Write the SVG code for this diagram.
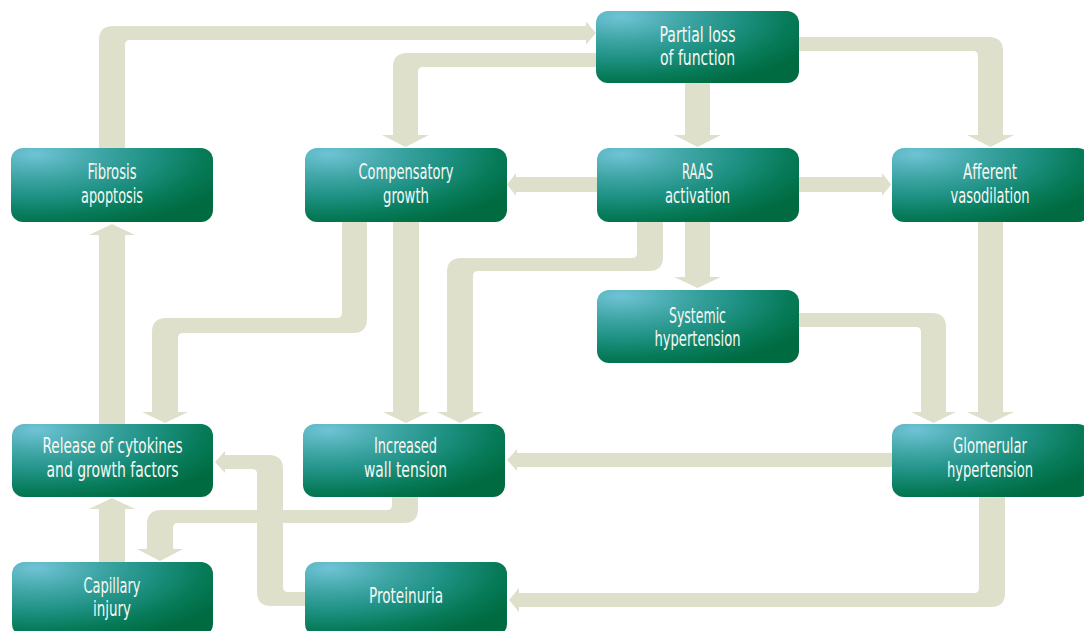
<svg xmlns="http://www.w3.org/2000/svg" width="1084" height="631" viewBox="0 0 1084 631">
  <defs>
    <radialGradient id="boxGrad" cx="0.12" cy="0.08" r="1.05" fx="0.12" fy="0.08" gradientUnits="objectBoundingBox">
      <stop offset="0" stop-color="#6fc3d6"/>
      <stop offset="0.3" stop-color="#3fa6a5"/>
      <stop offset="0.55" stop-color="#1f9184"/>
      <stop offset="0.8" stop-color="#067a57"/>
      <stop offset="1" stop-color="#006a40"/>
    </radialGradient>
  </defs>
  <style>
    .conn { fill: #dfe0cc; stroke: none; }
    .box { fill: url(#boxGrad); }
    .lbl { font-family: "Liberation Sans Narrow", "DejaVu Sans Condensed", "Liberation Sans", sans-serif; font-size: 21px; fill: #f6f7f3; text-anchor: middle; }
  </style>
  <rect width="1084" height="631" fill="#ffffff"/>

  <g id="connectors">
    <!-- Fibrosis -> Partial loss -->
    <path class="conn" d="M 99 148 L 99 40 Q 99 26 113 26 L 586 26 L 586 21.5 L 596 33 L 586 44.5 L 586 40 L 130 40 Q 125 40 125 45 L 125 148 Z"/>
    <!-- Partial loss -> Compensatory growth -->
    <path class="conn" d="M 597 53 L 407 53 Q 393 53 393 67 L 393 135 L 382 135 L 405.5 147 L 429 135 L 418 135 L 418 72 Q 418 67 423 67 L 597 67 Z"/>
    <!-- Partial loss -> RAAS -->
    <path class="conn" d="M 685 83 L 685 135 L 674 135 L 697.5 147 L 721 135 L 710 135 L 710 83 Z"/>
    <!-- Partial loss -> Afferent -->
    <path class="conn" d="M 799 37 L 989 37 Q 1003 37 1003 51 L 1003 135 L 1014 135 L 990.5 147 L 967 135 L 978 135 L 978 56 Q 978 51 973 51 L 799 51 Z"/>
    <!-- RAAS -> Compensatory -->
    <path class="conn" d="M 597 177 L 516 177 L 516 173 L 507 184.5 L 516 196 L 516 192 L 597 192 Z"/>
    <!-- RAAS -> Afferent -->
    <path class="conn" d="M 799 177 L 882 177 L 882 173 L 891 184.5 L 882 196 L 882 192 L 799 192 Z"/>
    <!-- RAAS -> Systemic -->
    <path class="conn" d="M 685 222 L 685 277 L 674 277 L 697.5 288 L 721 277 L 710 277 L 710 222 Z"/>
    <!-- RAAS -> Increased wall tension -->
    <path class="conn" d="M 637 222 L 637 253 Q 637 258 632 258 L 461 258 Q 447 258 447 272 L 447 412 L 437 412 L 460 423 L 483 412 L 473 412 L 473 276 Q 473 271 478 271 L 649 271 Q 663 271 663 257 L 663 222 Z"/>
    <!-- Compensatory -> Increased wall tension -->
    <path class="conn" d="M 393 222 L 393 412 L 383 412 L 406 423 L 429 412 L 419 412 L 419 222 Z"/>
    <!-- Compensatory -> Release -->
    <path class="conn" d="M 342 222 L 342 313 Q 342 318 337 318 L 166 318 Q 152 318 152 332 L 152 412 L 142 412 L 165 423 L 188 412 L 178 412 L 178 338 Q 178 333 183 333 L 353 333 Q 367 333 367 319 L 367 222 Z"/>
    <!-- Afferent -> Glomerular -->
    <path class="conn" d="M 978 222 L 978 412 L 967 412 L 990.5 423 L 1014 412 L 1003 412 L 1003 222 Z"/>
    <!-- Systemic -> Glomerular -->
    <path class="conn" d="M 799 313 L 932 313 Q 946 313 946 327 L 946 412 L 956 412 L 933.5 423 L 911 412 L 921 412 L 921 332 Q 921 327 916 327 L 799 327 Z"/>
    <!-- Glomerular -> Increased wall tension -->
    <path class="conn" d="M 892 453 L 517 453 L 517 449 L 507 460 L 517 471 L 517 467 L 892 467 Z"/>
    <!-- Glomerular -> Proteinuria -->
    <path class="conn" d="M 979 497 L 979 588 Q 979 593 974 593 L 519 593 L 519 588 L 509 600 L 519 612 L 519 607 L 991 607 Q 1005 607 1005 593 L 1005 497 Z"/>
    <!-- Proteinuria -> Release -->
    <path class="conn" d="M 305 592 L 288 592 Q 283 592 283 587 L 283 469 Q 283 455 269 455 L 225 455 L 225 451 L 215 462 L 225 473 L 225 469 L 252 469 Q 257 469 257 474 L 257 592 Q 257 606 271 606 L 305 606 Z"/>
    <!-- Increased wall tension -> Capillary injury -->
    <path class="conn" d="M 392 497 L 392 505 Q 392 510 387 510 L 161 510 Q 147 510 147 524 L 147 549 L 137 549 L 160 561 L 183 549 L 173 549 L 173 528 Q 173 523 178 523 L 404 523 Q 418 523 418 509 L 418 497 Z"/>
    <!-- Capillary injury -> Release -->
    <path class="conn" d="M 99 562 L 99 509 L 89 509 L 112 498 L 135 509 L 125 509 L 125 562 Z"/>
    <!-- Release -> Fibrosis -->
    <path class="conn" d="M 99 424 L 99 235 L 89 235 L 112 224 L 135 235 L 125 235 L 125 424 Z"/>
  </g>

  <g id="partial-loss">
    <rect class="box" x="596" y="11" width="203" height="72" rx="12"/>
    <text class="lbl" x="697.5" y="42" textLength="76" lengthAdjust="spacingAndGlyphs">Partial loss</text>
    <text class="lbl" x="697.5" y="65" textLength="75" lengthAdjust="spacingAndGlyphs">of function</text>
  </g>
  <g id="fibrosis">
    <rect class="box" x="11" y="148" width="202" height="74" rx="12"/>
    <text class="lbl" x="112" y="179" textLength="49" lengthAdjust="spacingAndGlyphs">Fibrosis</text>
    <text class="lbl" x="112" y="203" textLength="62" lengthAdjust="spacingAndGlyphs">apoptosis</text>
  </g>
  <g id="compensatory">
    <rect class="box" x="305" y="148" width="202" height="74" rx="12"/>
    <text class="lbl" x="406" y="179" textLength="95" lengthAdjust="spacingAndGlyphs">Compensatory</text>
    <text class="lbl" x="406" y="203" textLength="46" lengthAdjust="spacingAndGlyphs">growth</text>
  </g>
  <g id="raas">
    <rect class="box" x="597" y="148" width="202" height="74" rx="12"/>
    <text class="lbl" x="697.5" y="179" textLength="31" lengthAdjust="spacingAndGlyphs">RAAS</text>
    <text class="lbl" x="697.5" y="203" textLength="65" lengthAdjust="spacingAndGlyphs">activation</text>
  </g>
  <g id="afferent">
    <rect class="box" x="892" y="148" width="198" height="74" rx="12"/>
    <text class="lbl" x="990" y="179" textLength="54" lengthAdjust="spacingAndGlyphs">Afferent</text>
    <text class="lbl" x="990" y="203" textLength="79" lengthAdjust="spacingAndGlyphs">vasodilation</text>
  </g>
  <g id="systemic">
    <rect class="box" x="597" y="290" width="202" height="73" rx="12"/>
    <text class="lbl" x="697.5" y="323" textLength="57" lengthAdjust="spacingAndGlyphs">Systemic</text>
    <text class="lbl" x="697.5" y="346" textLength="86" lengthAdjust="spacingAndGlyphs">hypertension</text>
  </g>
  <g id="release">
    <rect class="box" x="12" y="424" width="201" height="73" rx="12"/>
    <text class="lbl" x="112.5" y="453" textLength="140" lengthAdjust="spacingAndGlyphs">Release of cytokines</text>
    <text class="lbl" x="112.5" y="477" textLength="132" lengthAdjust="spacingAndGlyphs">and growth factors</text>
  </g>
  <g id="wall-tension">
    <rect class="box" x="303" y="424" width="202" height="73" rx="12"/>
    <text class="lbl" x="405.5" y="453" textLength="63" lengthAdjust="spacingAndGlyphs">Increased</text>
    <text class="lbl" x="405.5" y="477" textLength="83" lengthAdjust="spacingAndGlyphs">wall tension</text>
  </g>
  <g id="glomerular">
    <rect class="box" x="892" y="424" width="198" height="73" rx="12"/>
    <text class="lbl" x="990" y="453" textLength="74" lengthAdjust="spacingAndGlyphs">Glomerular</text>
    <text class="lbl" x="990" y="477" textLength="86" lengthAdjust="spacingAndGlyphs">hypertension</text>
  </g>
  <g id="capillary">
    <rect class="box" x="12" y="562" width="201" height="74" rx="12"/>
    <text class="lbl" x="112" y="593" textLength="57" lengthAdjust="spacingAndGlyphs">Capillary</text>
    <text class="lbl" x="112" y="616" textLength="38" lengthAdjust="spacingAndGlyphs">injury</text>
  </g>
  <g id="proteinuria">
    <rect class="box" x="305" y="562" width="202" height="74" rx="12"/>
    <text class="lbl" x="406" y="603" textLength="74" lengthAdjust="spacingAndGlyphs">Proteinuria</text>
  </g>
</svg>
